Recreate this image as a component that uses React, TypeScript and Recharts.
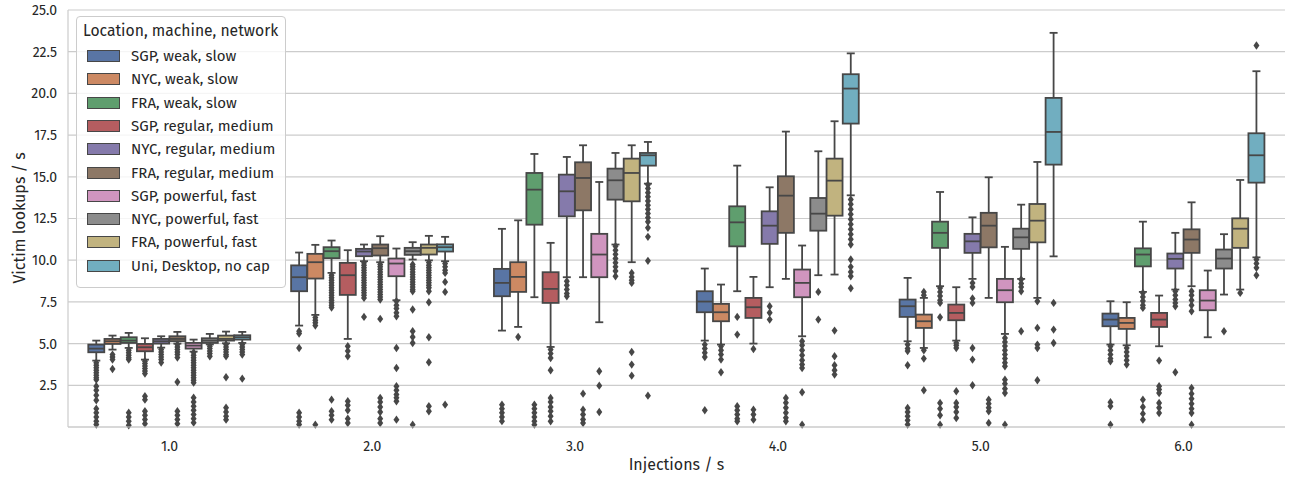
import { BarChart, Bar, XAxis, YAxis, CartesianGrid } from 'recharts';

const categories = ['1.0', '2.0', '3.0', '4.0', '5.0', '6.0'];

const hueNames = [
  'SGP, weak, slow',
  'NYC, weak, slow',
  'FRA, weak, slow',
  'SGP, regular, medium',
  'NYC, regular, medium',
  'FRA, regular, medium',
  'SGP, powerful, fast',
  'NYC, powerful, fast',
  'FRA, powerful, fast',
  'Uni, Desktop, no cap',
];

const hueColors = [
  '#5975a4', '#cc8963', '#5f9e6e', '#b55d60', '#857aab',
  '#8d7866', '#d095bf', '#8c8c8c', '#c1b37f', '#71aec0',
];

const yTicks = [2.5, 5, 7.5, 10, 12.5, 15, 17.5, 20, 22.5, 25];

// each row: [whisker low, q1, median, q3, whisker high], one row per injection rate
const sgpWeakBox = [
  [3.98, 4.48, 4.7, 4.94, 5.18],
  [6.08, 8.14, 8.98, 9.69, 10.46],
  [5.78, 7.84, 8.64, 9.48, 11.88],
  [5.18, 6.88, 7.52, 8.14, 9.5],
  [5.14, 6.6, 7.24, 7.64, 8.94],
  [4.94, 6.04, 6.44, 6.8, 7.54],
];
const nycWeakBox = [
  [4.64, 4.98, 5.14, 5.28, 5.48],
  [6.72, 8.9, 9.88, 10.38, 10.92],
  [6.0, 8.1, 9.0, 9.88, 12.39],
  [4.94, 6.34, 6.88, 7.38, 8.54],
  [4.74, 5.94, 6.34, 6.74, 7.74],
  [4.9, 5.88, 6.24, 6.54, 7.48],
];
const fraWeakBox = [
  [4.74, 5.04, 5.18, 5.38, 5.64],
  [9.24, 10.12, 10.54, 10.78, 11.18],
  [7.78, 12.13, 14.23, 15.23, 16.37],
  [8.14, 10.83, 12.27, 13.23, 15.67],
  [8.44, 10.74, 11.64, 12.31, 14.09],
  [8.1, 9.63, 10.34, 10.71, 12.31],
];
const sgpRegularBox = [
  [4.04, 4.54, 4.78, 4.98, 5.32],
  [5.28, 7.92, 9.1, 9.84, 10.6],
  [4.8, 7.44, 8.28, 9.28, 11.04],
  [5.0, 6.54, 7.18, 7.74, 9.0],
  [5.18, 6.4, 6.84, 7.34, 8.38],
  [4.84, 6.0, 6.44, 6.84, 7.88],
];
const nycRegularBox = [
  [4.76, 5.0, 5.14, 5.28, 5.44],
  [9.94, 10.24, 10.52, 10.68, 10.94],
  [8.98, 12.63, 14.13, 15.13, 16.19],
  [8.38, 10.98, 12.07, 12.93, 14.37],
  [8.88, 10.44, 11.13, 11.58, 12.57],
  [8.24, 9.5, 10.08, 10.4, 11.64],
];
const fraRegularBox = [
  [5.0, 5.14, 5.28, 5.44, 5.7],
  [9.88, 10.28, 10.72, 10.94, 11.44],
  [8.98, 12.99, 14.93, 15.87, 16.89],
  [8.88, 11.64, 13.87, 15.03, 17.71],
  [7.74, 10.77, 12.07, 12.84, 14.97],
  [8.44, 10.44, 11.24, 11.85, 13.47],
];
const sgpPowerfulBox = [
  [4.52, 4.7, 4.88, 5.04, 5.24],
  [7.6, 9.04, 9.8, 10.1, 10.7],
  [6.28, 8.98, 10.34, 11.58, 14.69],
  [5.44, 7.78, 8.64, 9.44, 10.88],
  [5.58, 7.48, 8.2, 8.88, 10.8],
  [5.38, 7.0, 7.58, 8.2, 9.38],
];
const nycPowerfulBox = [
  [4.95, 5.04, 5.18, 5.32, 5.58],
  [10.04, 10.32, 10.54, 10.74, 11.08],
  [10.94, 13.63, 14.79, 15.49, 16.43],
  [9.1, 11.77, 12.79, 13.73, 16.53],
  [8.88, 10.68, 11.37, 11.89, 13.33],
  [7.94, 9.5, 10.1, 10.64, 11.56],
];
const fraPowerfulBox = [
  [5.02, 5.18, 5.28, 5.48, 5.72],
  [9.99, 10.34, 10.74, 10.94, 11.46],
  [9.88, 13.53, 15.23, 16.09, 16.89],
  [9.14, 12.67, 14.77, 16.09, 18.33],
  [7.74, 11.07, 12.37, 13.37, 15.89],
  [8.24, 10.74, 11.89, 12.51, 14.81],
];
const uniDesktopBox = [
  [5.04, 5.24, 5.38, 5.5, 5.7],
  [9.94, 10.52, 10.78, 10.95, 11.4],
  [14.59, 15.67, 16.29, 16.43, 17.09],
  [13.89, 18.19, 20.29, 21.15, 22.4],
  [10.23, 15.73, 17.69, 19.73, 23.63],
  [10.17, 14.65, 16.29, 17.61, 21.33],
];

// outliers, one list per injection rate
const sgpWeakOut = [
  [3.85, 3.7, 3.55, 3.4, 3.25, 3.1, 2.95, 2.84, 2.44, 2.2, 1.9, 1.6, 1.1, 0.85, 0.6, 0.35, 0.15],
  [5.74, 5.6, 4.74, 0.85, 0.6, 0.35, 0.15],
  [1.34, 1.1, 0.85, 0.6, 0.35],
  [4.94, 4.7, 4.45, 4.2, 1.0],
  [4.94, 4.7, 4.55, 3.7, 1.14, 0.9, 0.65, 0.4, 0.15],
  [4.84, 4.6, 4.35, 4.1, 3.94, 1.48, 1.25, 0.14],
];
const nycWeakOut = [
  [4.34, 4.2, 4.04, 3.48],
  [6.56, 6.4, 6.25, 6.08, 0.14],
  [5.4],
  [4.84, 4.6, 4.35, 4.04, 3.28],
  [8.1, 7.9, 4.6, 4.1, 2.2],
  [4.74, 4.5, 4.25, 4.0, 3.74],
];
const fraWeakOut = [
  [4.6, 4.45, 4.3, 4.15, 4.04, 0.86, 0.6, 0.35, 0.1],
  [9.1, 8.95, 8.8, 8.65, 8.5, 8.35, 8.2, 8.05, 7.9, 7.75, 7.6, 7.45, 7.3, 7.16, 1.64, 0.94, 0.7, 0.44],
  [1.34, 1.1, 0.85, 0.6, 0.35, 0.14],
  [6.6, 5.54, 1.24, 1.0, 0.75, 0.5, 0.34],
  [8.34, 8.1, 7.85, 7.6, 7.44, 6.58, 1.44, 1.1, 0.7, 0.14],
  [8.04, 7.8, 7.55, 7.3, 7.14, 1.64, 1.2, 0.8, 0.44],
];
const sgpRegularOut = [
  [3.94, 3.8, 3.65, 3.5, 3.35, 3.2, 1.84, 1.64, 0.94, 0.7, 0.45, 0.2],
  [4.84, 4.55, 4.24, 1.54, 1.3, 1.0, 0.5, 0.24],
  [4.64, 4.4, 4.14, 3.4, 1.74, 1.5, 1.2, 0.95, 0.65, 0.34],
  [4.68, 1.04, 0.75, 0.44],
  [5.04, 4.9, 4.74, 2.14, 1.44, 1.2, 0.9, 0.54],
  [3.98, 2.44, 2.25, 2.04, 1.44, 1.15, 0.84],
];
const nycRegularOut = [
  [4.64, 4.5, 4.35, 4.2, 4.05, 3.86],
  [9.84, 9.7, 9.55, 9.4, 9.25, 9.1, 8.95, 8.8, 8.65, 8.5, 8.35, 8.2, 8.05, 7.9, 7.74, 6.6],
  [8.74, 8.5, 8.25, 8.0, 7.84],
  [7.24, 6.85, 6.44],
  [8.64, 8.4, 7.7, 7.44, 4.74, 4.04, 2.5],
  [8.14, 7.9, 7.65, 7.44, 7.24, 3.28],
];
const fraRegularOut = [
  [4.94, 4.8, 4.65, 4.5, 4.35, 4.16, 2.7, 0.94, 0.7, 0.45, 0.2],
  [9.74, 9.6, 9.45, 9.3, 9.15, 9.0, 8.85, 8.7, 8.55, 8.4, 8.25, 8.1, 7.95, 7.8, 7.64, 6.48, 1.74, 1.5, 1.2, 0.9, 0.5, 0.24],
  [2.0, 1.04, 0.75, 0.45, 0.24],
  [1.74, 1.45, 1.15, 0.85, 0.55, 0.34],
  [1.64, 1.4, 1.15, 0.94, 0.24],
  [8.14, 7.9, 7.6, 7.3, 6.94, 2.34, 2.0, 1.7, 1.4, 1.1, 0.84, 0.14],
];
const sgpPowerfulOut = [
  [4.46, 4.3, 4.15, 4.0, 3.85, 3.7, 3.55, 3.4, 3.25, 3.1, 2.95, 2.8, 2.66, 1.76, 1.5, 1.25, 1.0, 0.75, 0.5, 0.26],
  [7.54, 7.3, 7.1, 6.85, 6.64, 4.74, 3.54, 2.44, 2.2, 1.95, 1.75, 1.54, 0.44],
  [3.34, 2.48, 0.9],
  [5.14, 4.9, 4.6, 4.3, 4.0, 3.75, 3.54, 2.08, 0.14],
  [5.34, 5.1, 4.85, 4.6, 4.35, 4.1, 3.85, 3.64, 2.84, 2.6, 2.3, 2.04, 0.14],
  [],
];
const nycPowerfulOut = [
  [4.84, 4.7, 4.55, 4.4, 4.24],
  [9.74, 9.6, 9.45, 9.3, 9.15, 9.0, 8.85, 8.7, 8.55, 8.4, 8.25, 8.14, 7.04, 5.74, 5.4, 5.04, 0.14],
  [10.84, 10.6, 10.35, 10.1, 9.85, 9.6, 9.35, 9.04],
  [8.1, 6.44],
  [8.84, 8.6, 8.4, 8.14, 5.74],
  [5.74],
];
const fraPowerfulOut = [
  [4.94, 4.8, 4.65, 4.5, 4.35, 4.24, 2.98, 1.16, 0.9, 0.65, 0.44],
  [9.86, 9.7, 9.55, 9.4, 9.25, 9.1, 8.95, 8.8, 8.65, 8.5, 8.35, 8.14, 7.48, 5.38, 3.88, 1.24, 0.94],
  [9.24, 9.0, 8.8, 8.64, 4.5, 3.74, 3.08],
  [5.78, 4.24, 3.7, 3.4, 3.14],
  [7.54, 5.94, 4.94, 4.74, 2.8],
  [8.04],
];
const uniDesktopOut = [
  [4.94, 4.8, 4.65, 4.5, 4.34, 2.9],
  [9.8, 9.6, 9.4, 9.24, 8.7, 8.1, 1.34],
  [14.53, 14.3, 14.05, 13.8, 13.55, 13.3, 13.05, 12.8, 12.55, 12.3, 11.94, 11.4, 9.96, 1.88],
  [13.64, 13.35, 13.05, 12.75, 12.45, 12.15, 11.85, 11.55, 11.25, 10.94, 10.04, 9.6, 9.3, 9.04, 8.32],
  [7.44, 5.84, 5.04],
  [22.87, 10.04, 9.8, 9.54, 9.1],
];

const boxes = [
  sgpWeakBox, nycWeakBox, fraWeakBox, sgpRegularBox, nycRegularBox,
  fraRegularBox, sgpPowerfulBox, nycPowerfulBox, fraPowerfulBox, uniDesktopBox,
];
const fliers = [
  sgpWeakOut, nycWeakOut, fraWeakOut, sgpRegularOut, nycRegularOut,
  fraRegularOut, sgpPowerfulOut, nycPowerfulOut, fraPowerfulOut, uniDesktopOut,
];

const data = categories.map((cat, c) => {
  const row: Record<string, any> = { cat };
  boxes.forEach((b, h) => {
    row[`h${h}`] = [b[c][0], b[c][4]];
    row[`box${h}`] = b[c];
    row[`out${h}`] = fliers[h][c];
  });
  return row;
});

const FONT = "'Fira Sans', Roboto, sans-serif";
const INK = '#262626';
const EDGE = '#474747';
const GRID = '#cccccc';
const LW = 1.8;

// the bar spans the whiskers; quartiles and fliers are placed on the same scale
const makeBox = (h: number) => (props: any) => {
  const { x, y, width, height, payload } = props;
  const [lo, q1, med, q3, hi] = payload[`box${h}`];
  const out: number[] = payload[`out${h}`];
  const py = (v: number) => y + (height * (hi - v)) / (hi - lo);
  const cx = x + width / 2;
  const cap = width / 4;
  return (
    <g>
      <line x1={cx} x2={cx} y1={py(hi)} y2={py(q3)} stroke={EDGE} strokeWidth={LW} />
      <line x1={cx} x2={cx} y1={py(q1)} y2={py(lo)} stroke={EDGE} strokeWidth={LW} />
      <line x1={cx - cap} x2={cx + cap} y1={py(hi)} y2={py(hi)} stroke={EDGE} strokeWidth={LW} />
      <line x1={cx - cap} x2={cx + cap} y1={py(lo)} y2={py(lo)} stroke={EDGE} strokeWidth={LW} />
      <rect x={x} y={py(q3)} width={width} height={py(q1) - py(q3)} fill={hueColors[h]} stroke={EDGE} strokeWidth={LW} />
      <line x1={x} x2={x + width} y1={py(med)} y2={py(med)} stroke={EDGE} strokeWidth={LW} />
      {out.map((v, i) => {
        const oy = py(v);
        return (
          <path
            key={i}
            d={`M${cx},${oy - 4.2}L${cx + 3},${oy}L${cx},${oy + 4.2}L${cx - 3},${oy}Z`}
            fill={EDGE}
          />
        );
      })}
    </g>
  );
};

function LegendBox() {
  return (
    <div
      style={{
        position: 'absolute',
        left: 76,
        top: 16,
        width: 208,
        height: 270,
        border: `1px solid ${GRID}`,
        borderRadius: 4,
        background: 'rgba(255,255,255,0.8)',
        fontFamily: FONT,
        color: INK,
        fontSize: 15,
      }}
    >
      <div style={{ position: 'absolute', left: 6, top: 4, fontSize: 15.7, whiteSpace: 'nowrap' }}>
        Location, machine, network
      </div>
      {hueNames.map((name, i) => (
        <div
          key={name}
          style={{
            position: 'absolute',
            left: 10,
            top: 32 + i * 23.3,
            height: 14,
            display: 'flex',
            alignItems: 'center',
            whiteSpace: 'nowrap',
          }}
        >
          <span
            style={{
              display: 'inline-block',
              width: 31,
              height: 10,
              background: hueColors[i],
              border: `1px solid ${EDGE}`,
              marginRight: 11,
            }}
          />
          <span>{name}</span>
        </div>
      ))}
    </div>
  );
}

export default function App() {
  return (
    <div style={{ position: 'absolute', left: 0, top: 0, width: 1291, height: 477, background: '#fff' }}>
      <BarChart
        width={1291}
        height={477}
        data={data}
        margin={{ top: 10, right: 6, bottom: 0, left: 8 }}
        barCategoryGap="10%"
        barGap={0.22}
      >
        <CartesianGrid vertical={false} stroke={GRID} strokeWidth={1.2} />
        <XAxis
          dataKey="cat"
          height={50}
          tickLine={false}
          axisLine={{ stroke: GRID, strokeWidth: 1.2 }}
          tickMargin={8}
          tick={{ fill: INK, fontSize: 14, fontFamily: FONT }}
          label={{
            value: 'Injections / s',
            position: 'insideBottom',
            offset: 7,
            fill: INK,
            fontSize: 16,
            fontFamily: FONT,
          }}
        />
        <YAxis
          type="number"
          domain={[0, 25]}
          ticks={yTicks}
          width={60}
          tickLine={false}
          axisLine={{ stroke: GRID, strokeWidth: 1.2 }}
          tickMargin={5}
          tickFormatter={(v: number) => v.toFixed(1)}
          tick={{ fill: INK, fontSize: 14, fontFamily: FONT }}
          label={{
            content: () => (
              <text
                x={19}
                y={218}
                transform="rotate(-90 19 218)"
                textAnchor="middle"
                dominantBaseline="central"
                fill={INK}
                fontSize={16}
                fontFamily={FONT}
              >
                Victim lookups / s
              </text>
            ),
          }}
        />
        {hueNames.map((name, h) => (
          <Bar
            key={name}
            dataKey={`h${h}`}
            name={name}
            fill={hueColors[h]}
            shape={makeBox(h)}
            activeBar={false}
            isAnimationActive={false}
          />
        ))}
      </BarChart>
      <LegendBox />
    </div>
  );
}
